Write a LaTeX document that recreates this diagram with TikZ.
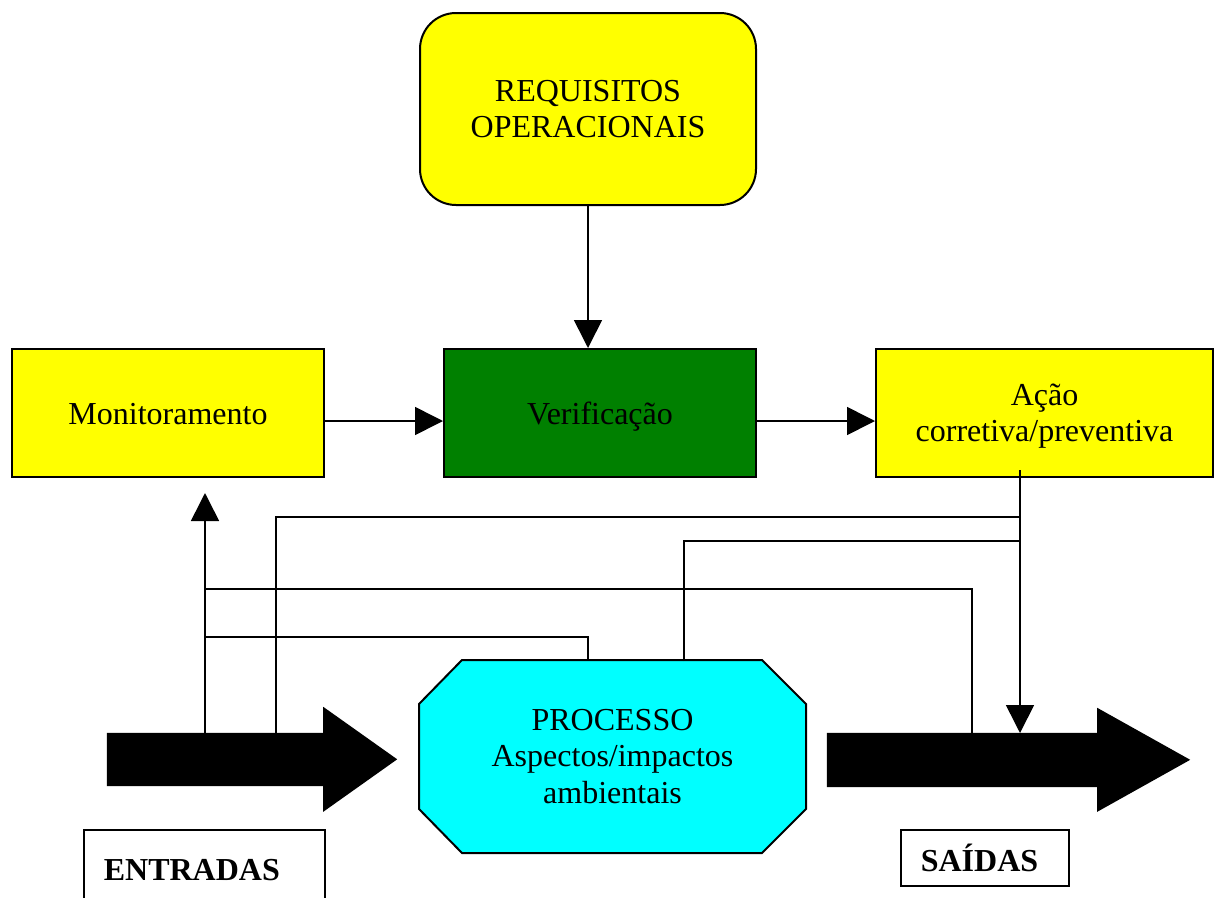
\documentclass[tikz,border=0pt]{standalone}
\usepackage{fontspec}
\setmainfont{Liberation Serif}
\usetikzlibrary{arrows.meta,calc,backgrounds}

\definecolor{boxyellow}{RGB}{255,255,0}
\definecolor{boxgreen}{RGB}{0,128,0}
\definecolor{boxcyan}{RGB}{0,255,255}

\begin{document}
\begin{tikzpicture}[x=1pt,y=-1pt,
  box/.style={draw=black, line width=2pt, align=center, inner sep=0pt,
    font=\fontsize{32}{36.5}\selectfont},
  oneline/.style={text height=23pt, text depth=0pt},
  yellowbox/.style={box, fill=boxyellow},
  greenbox/.style={box, fill=boxgreen},
  tagbox/.style={draw=black, line width=1.6pt, fill=white, inner sep=0pt,
    align=left, inner xsep=20pt, font=\fontsize{32}{36}\selectfont\bfseries},
  shaft/.style={inner sep=0pt, draw=none},
  conn/.style={draw=black, line width=1.6pt},
  tip/.style={conn, -{Triangle[length=28pt,width=28pt]}},
  fatarrow/.style={fill=black}
]
\useasboundingbox (0,0) rectangle (1214,897);
\clip (0,0) rectangle (1214,897);

% --- upper row of boxes ---
\node[yellowbox, rounded corners=36pt, minimum width=336pt, minimum height=192pt]
  (req) at (588,109) {REQUISITOS\\OPERACIONAIS};
\node[yellowbox, oneline, minimum width=312pt, minimum height=128pt]
  (mon) at (168,413) {Monitoramento};
\node[greenbox, oneline, minimum width=312pt, minimum height=128pt]
  (ver) at (600,413) {Verificação};
\node[yellowbox, minimum width=337pt, minimum height=128pt]
  (acao) at (1044.5,413) {\rule{0pt}{28pt}Ação\\corretiva/preventiva};

% --- process (octagon drawn behind its text) ---
\node[box, draw=none, minimum width=385pt, minimum height=191pt]
  (proc) at (612.5,756.5) {PROCESSO\\Aspectos/impactos\\ambientais};
\begin{scope}[on background layer]
  \draw[line width=2pt, fill=boxcyan]
    ($(proc.north west)+(43,0)$) -- ($(proc.north east)+(-44,0)$)
    -- ($(proc.north east)+(0,44)$) -- ($(proc.south east)+(0,-44)$)
    -- ($(proc.south east)+(-44,0)$) -- ($(proc.south west)+(43,0)$)
    -- ($(proc.south west)+(0,-44)$) -- ($(proc.north west)+(0,44)$) -- cycle;
\end{scope}

% --- input and output block arrows ---
\node[shaft, minimum width=216pt, minimum height=53pt] (inflow) at (215,759.5) {};
\fill[fatarrow] (inflow.north west) -- (inflow.north east) -- ++(0,-26)
  -- ++(74,52.5) -- ++(-74,52.5) -- (inflow.south east) -- (inflow.south west) -- cycle;

\node[shaft, minimum width=270pt, minimum height=54pt] (outflow) at (962,760) {};
\fill[fatarrow] (outflow.north west) -- (outflow.north east) -- ++(0,-25)
  -- ++(93,52) -- ++(-93,52) -- (outflow.south east) -- (outflow.south west) -- cycle;

% --- labels under the block arrows ---
\node[tagbox, anchor=north west, minimum height=80pt, text width=201pt]
  (entradas) at (83,829) {ENTRADAS};
\node[tagbox, anchor=north west, minimum height=56pt, text width=128pt]
  (saidas) at (900,829) {SAÍDAS};

% --- connection points ---
\coordinate (inA) at (205,733);
\coordinate (inB) at (276,733);
\coordinate (outA) at (972,733);
\coordinate (outB) at (1020,733);
\coordinate (monIn) at (205,493);
\coordinate (acOut) at (1020,470);
\coordinate (procA) at (588,661);
\coordinate (procB) at (684,661);
\coordinate (busTop) at (1020,517);
\coordinate (busMid) at (1020,541);

% --- upper arrows ---
\draw[tip] (req.south) -- (req.south |- ver.north);
\draw[tip] ([yshift=-8pt]mon.east) -- ([yshift=-8pt]ver.west);
\draw[tip] ([yshift=-8pt]ver.east) -- ([yshift=-8pt]acao.west);

% --- feedback network ---
\draw[tip] (inA) -- (monIn);
\draw[conn] (inA |- 0,589) -| (outA);
\draw[conn] (inA |- 0,637) -| (procA);
\draw[conn] (inB) |- (busTop);
\draw[conn] (procB) |- (busMid);
\draw[tip] (acOut) -- (outB);
\end{tikzpicture}
\end{document}
